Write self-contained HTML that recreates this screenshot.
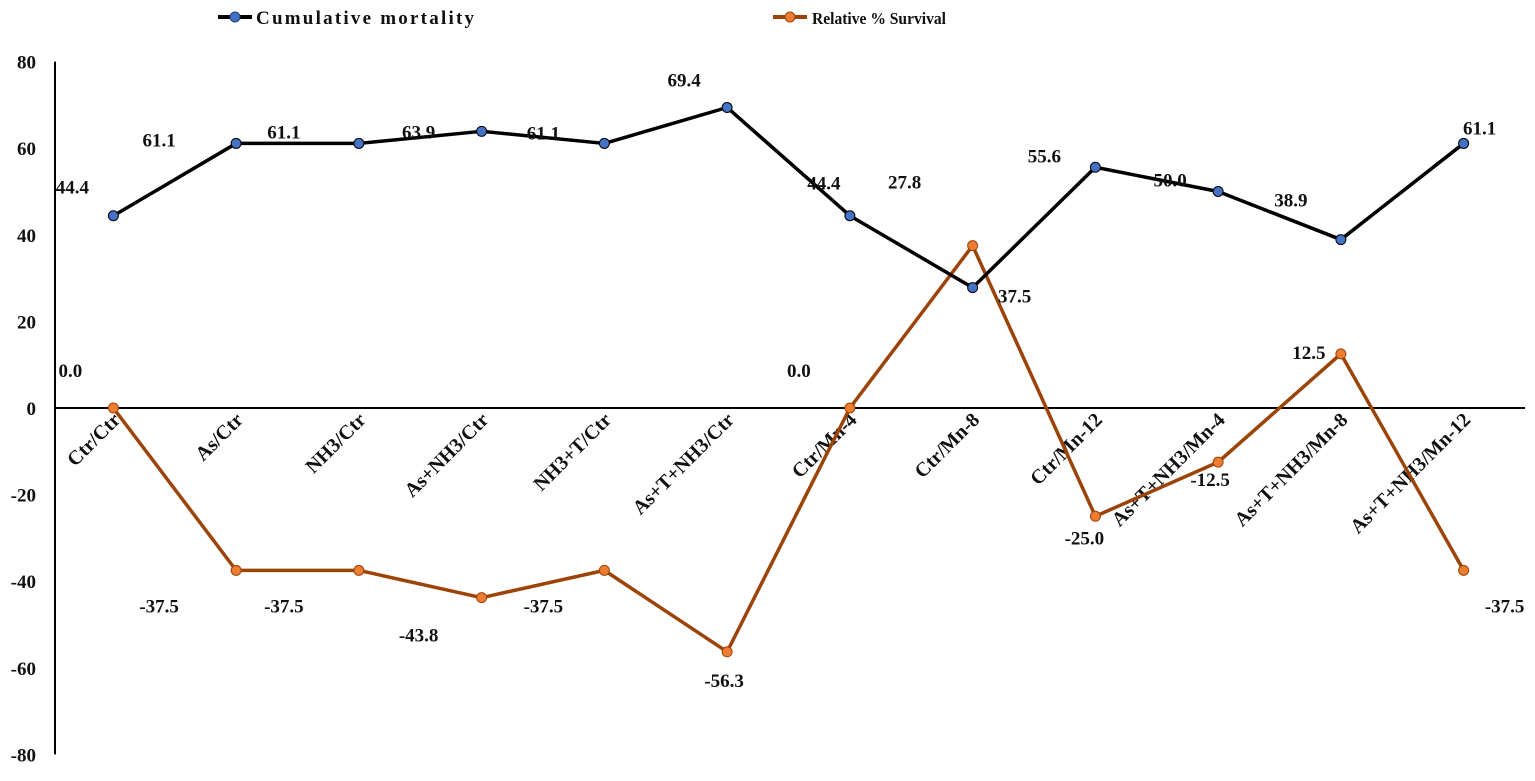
<!DOCTYPE html>
<html><head><meta charset="utf-8"><style>
body{margin:0;background:#fff}
svg text{font-family:"Liberation Serif",serif;font-weight:bold;fill:#111}
</style></head><body>
<svg id="chart" width="1535" height="776" viewBox="0 0 1535 776" xmlns="http://www.w3.org/2000/svg">
<g>
 <g>
  <line x1="218" y1="17" x2="252" y2="17" stroke="#000" stroke-width="4"/>
  <circle cx="235" cy="17" r="5" fill="#4472c4" stroke="#1f3f7a" stroke-width="1"/>
  <text x="256" y="24" font-size="19" textLength="218" lengthAdjust="spacing">Cumulative mortality</text>
 </g>
 <g>
  <line x1="773" y1="17" x2="807" y2="17" stroke="#9c4308" stroke-width="4"/>
  <circle cx="790" cy="17" r="5" fill="#ed7d31" stroke="#9c4308" stroke-width="1"/>
  <text x="812" y="24" font-size="17" textLength="134" lengthAdjust="spacingAndGlyphs">Relative % Survival</text>
 </g>
</g>
<g id="axes"></g>
<g id="series"></g>
</svg>
<script>
const categories=["Ctr/Ctr","As/Ctr","NH3/Ctr","As+NH3/Ctr","NH3+T/Ctr","As+T+NH3/Ctr","Ctr/Mn-4","Ctr/Mn-8","Ctr/Mn-12","As+T+NH3/Mn-4","As+T+NH3/Mn-8","As+T+NH3/Mn-12"];
const mortality=[44.4,61.1,61.1,63.9,61.1,69.4,44.4,27.8,55.6,50.0,38.9,61.1];
const survival=[0.0,-37.5,-37.5,-43.8,-37.5,-56.3,0.0,37.5,-25.0,-12.5,12.5,-37.5];
const yTicks=[80,60,40,20,0,-20,-40,-60,-80];
// label offsets (styling only)
const mOff=[[-41,-29],[-77,-4],[-75,-12],[-63,0],[-61,-11],[-43,-28],[-26,-33],[-68,-106],[-51,-12],[-48,-12],[-50,-40],[16,-16]];
const sOff=[[-43,-38],[-77,35],[-75,35],[-63,37],[-61,35],[-3,28],[-51,-38],[42,50],[-11,21],[-8,17],[-32,-2],[41,35]];
const NS="http://www.w3.org/2000/svg";
const x0=52,x1=1525,y0=408,k=4.33;
const step=(x1-x0)/categories.length;
const xs=i=>x0+step*(i+0.5);
const ys=v=>y0-v*k;
function mk(t,a,p){const e=document.createElementNS(NS,t);for(const n in a)e.setAttribute(n,a[n]);p.appendChild(e);return e;}
const ax=document.getElementById('axes'),se=document.getElementById('series');
const yl=mk('line',{x1:55,y1:ys(80),x2:55,y2:ys(-80),stroke:'#000','stroke-width':2},ax);


const xl=mk('line',{x1:55,y1:y0,x2:x1,y2:y0,stroke:'#000','stroke-width':2},ax);


yTicks.forEach(v=>{const t=mk('text',{x:36,y:ys(v)+7,'text-anchor':'end','font-size':19},ax);t.textContent=v;

});
categories.forEach((c,i)=>{const x=xs(i)+8,y=421;const t=mk('text',{x:x,y:y,'text-anchor':'end','font-size':20,transform:`rotate(-45 ${x} ${y})`},ax);t.textContent=c;

});
function series(vals,off,stroke,fill,name){
 const g=mk('g',{},se);
 
 
 const pl=mk('polyline',{points:vals.map((v,i)=>xs(i)+','+ys(v)).join(' '),fill:'none',stroke:stroke,'stroke-width':3.5,'stroke-linejoin':'round'},g);
 
 
 vals.forEach((v,i)=>{const c=mk('circle',{cx:xs(i),cy:ys(v),r:5,fill:fill,stroke:stroke,'stroke-width':1},g);
 
 
 const t=mk('text',{x:xs(i)+off[i][0],y:ys(v)+off[i][1]+7,'text-anchor':'middle','font-size':19},g);t.textContent=v.toFixed(1);
 
 });
}
series(survival,sOff,'#9c4308','#ed7d31','relative-survival');
series(mortality,mOff,'#000','#4472c4','cumulative-mortality');
</script>
</body></html>
